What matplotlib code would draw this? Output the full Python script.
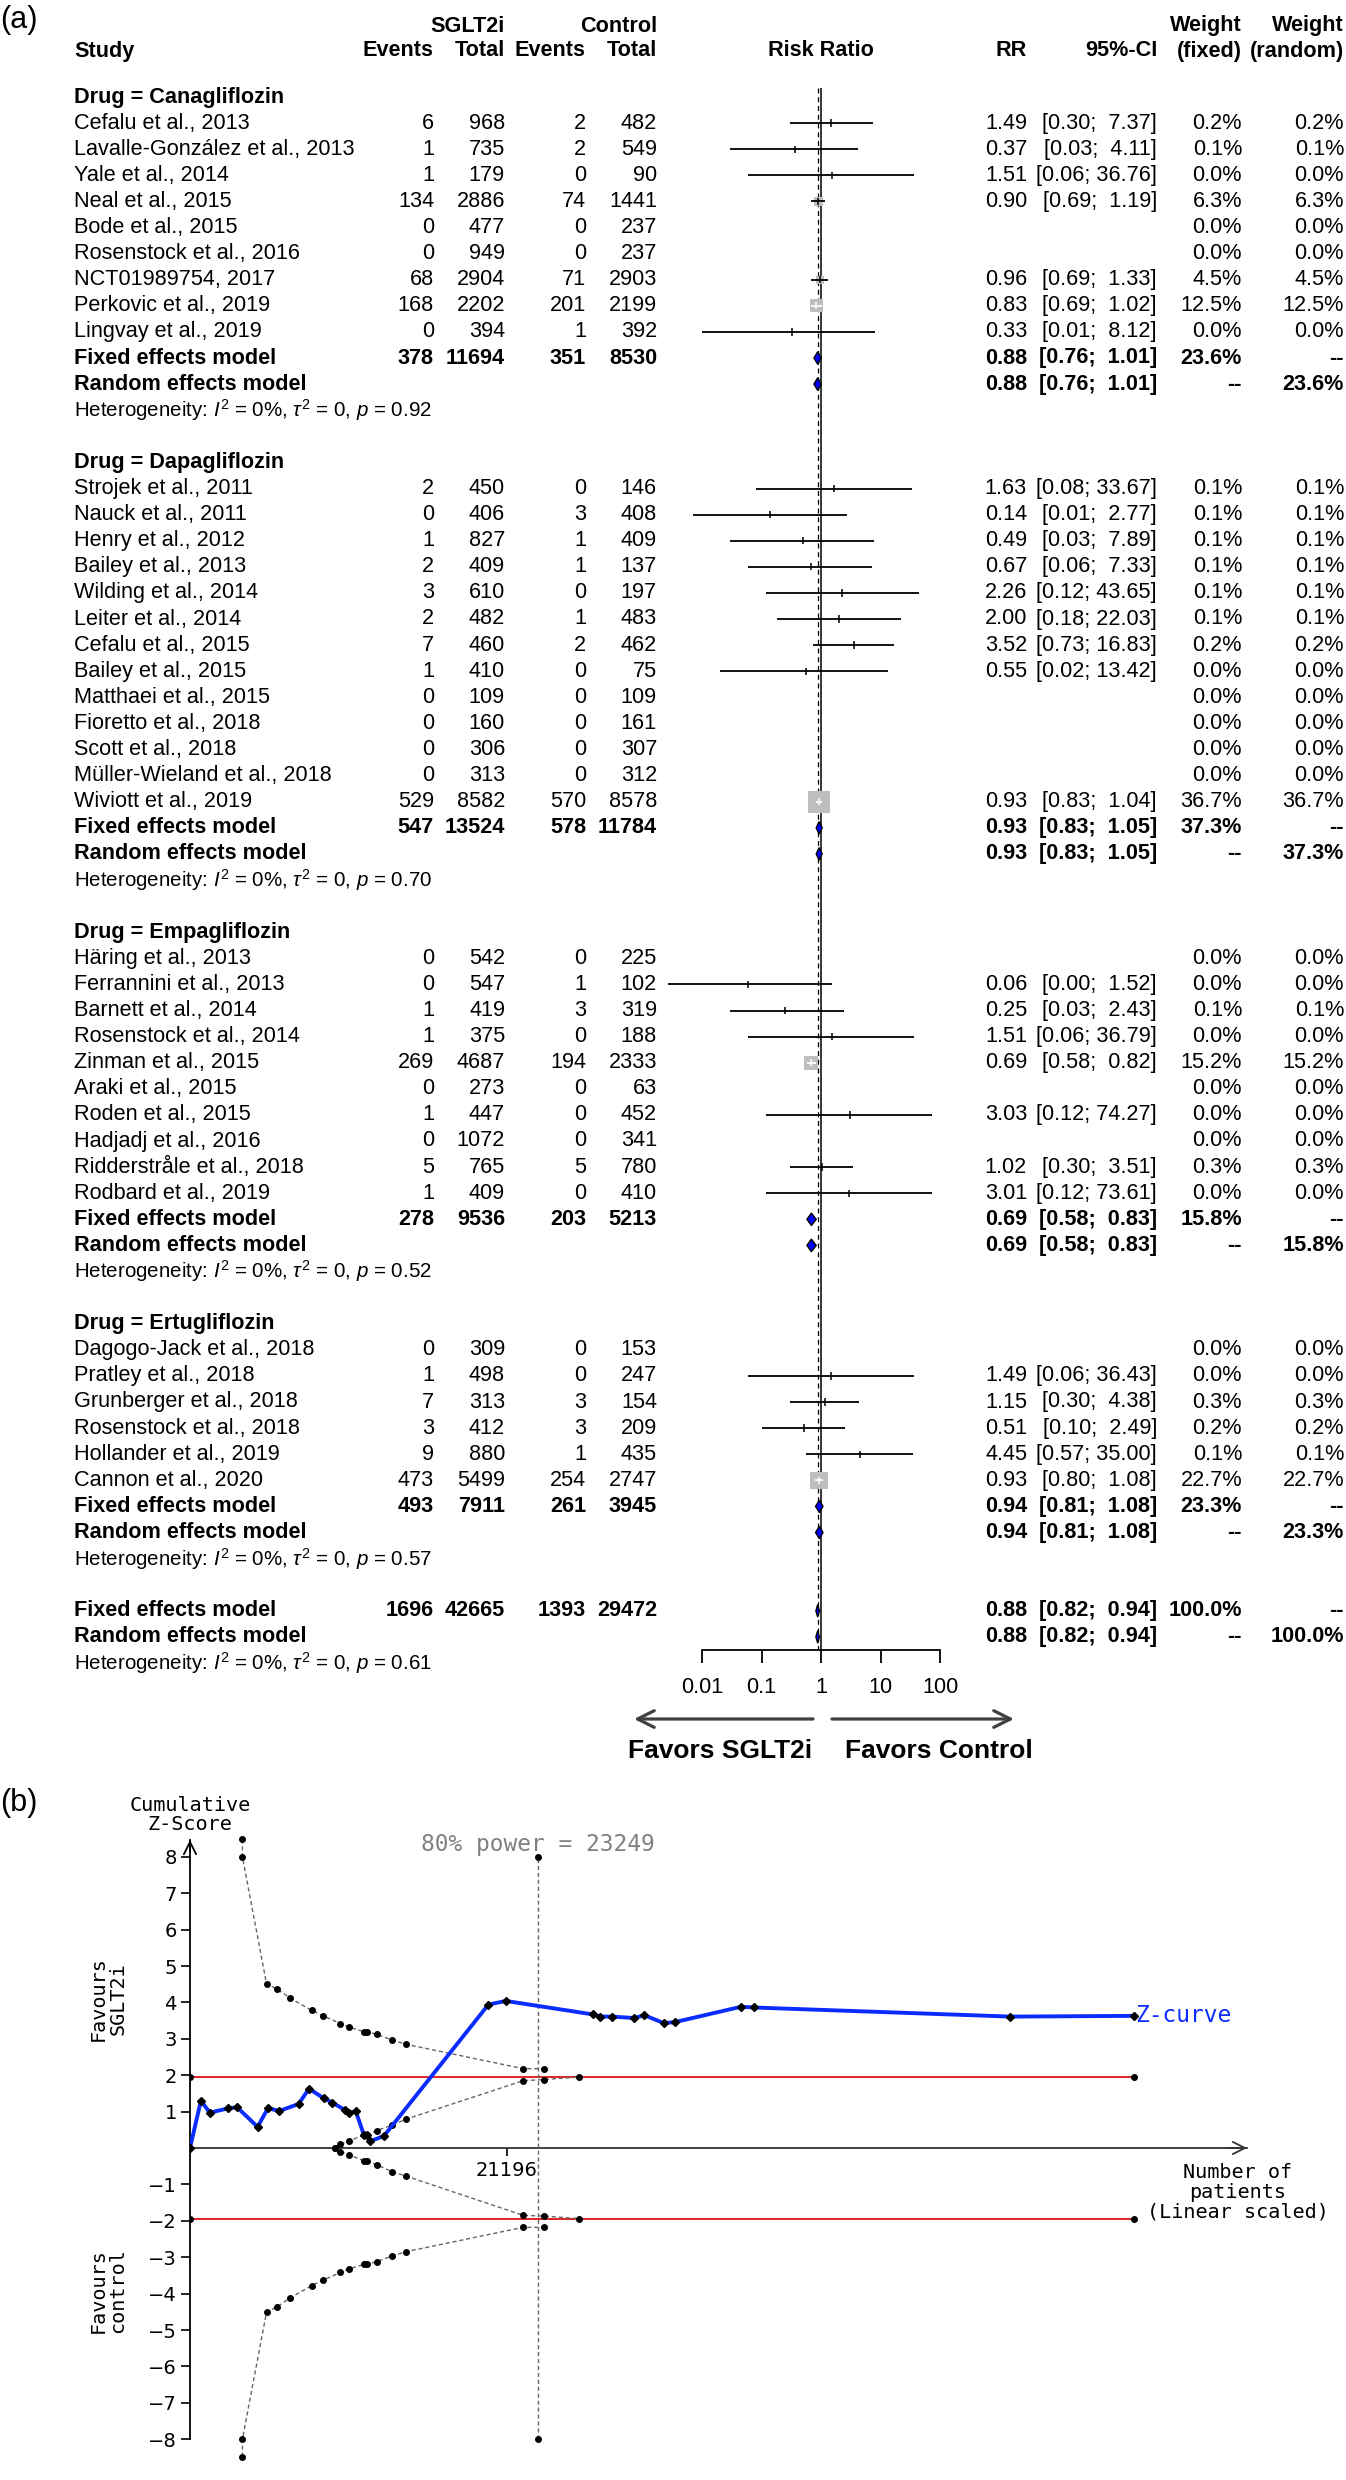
import numpy as np
import matplotlib.pyplot as plt
from matplotlib.ticker import NullLocator

plt.rcParams['font.family'] = ['Liberation Sans', 'DejaVu Sans']
plt.rcParams['mathtext.fontset'] = 'custom'
plt.rcParams['mathtext.rm'] = 'Liberation Sans'
plt.rcParams['mathtext.it'] = 'Liberation Sans:italic'

nan = float('nan')

# ---------------- (a) forest plot data ----------------
drugs = ['Canagliflozin', 'Dapagliflozin', 'Empagliflozin', 'Ertugliflozin']
n_studies = [9, 13, 10, 6]

studies = [
    'Cefalu et al., 2013', 'Lavalle-González et al., 2013', 'Yale et al., 2014',
    'Neal et al., 2015', 'Bode et al., 2015', 'Rosenstock et al., 2016',
    'NCT01989754, 2017', 'Perkovic et al., 2019', 'Lingvay et al., 2019',
    'Strojek et al., 2011', 'Nauck et al., 2011', 'Henry et al., 2012',
    'Bailey et al., 2013', 'Wilding et al., 2014', 'Leiter et al., 2014',
    'Cefalu et al., 2015', 'Bailey et al., 2015', 'Matthaei et al., 2015',
    'Fioretto et al., 2018', 'Scott et al., 2018', 'Müller-Wieland et al., 2018',
    'Wiviott et al., 2019',
    'Häring et al., 2013', 'Ferrannini et al., 2013', 'Barnett et al., 2014',
    'Rosenstock et al., 2014', 'Zinman et al., 2015', 'Araki et al., 2015',
    'Roden et al., 2015', 'Hadjadj et al., 2016', 'Ridderstråle et al., 2018',
    'Rodbard et al., 2019',
    'Dagogo-Jack et al., 2018', 'Pratley et al., 2018', 'Grunberger et al., 2018',
    'Rosenstock et al., 2018', 'Hollander et al., 2019', 'Cannon et al., 2020',
]
ev_sglt2 = [6, 1, 1, 134, 0, 0, 68, 168, 0,
            2, 0, 1, 2, 3, 2, 7, 1, 0, 0, 0, 0, 529,
            0, 0, 1, 1, 269, 0, 1, 0, 5, 1,
            0, 1, 7, 3, 9, 473]
n_sglt2 = [968, 735, 179, 2886, 477, 949, 2904, 2202, 394,
           450, 406, 827, 409, 610, 482, 460, 410, 109, 160, 306, 313, 8582,
           542, 547, 419, 375, 4687, 273, 447, 1072, 765, 409,
           309, 498, 313, 412, 880, 5499]
ev_ctrl = [2, 2, 0, 74, 0, 0, 71, 201, 1,
           0, 3, 1, 1, 0, 1, 2, 0, 0, 0, 0, 0, 570,
           0, 1, 3, 0, 194, 0, 0, 0, 5, 0,
           0, 0, 3, 3, 1, 254]
n_ctrl = [482, 549, 90, 1441, 237, 237, 2903, 2199, 392,
          146, 408, 409, 137, 197, 483, 462, 75, 109, 161, 307, 312, 8578,
          225, 102, 319, 188, 2333, 63, 452, 341, 780, 410,
          153, 247, 154, 209, 435, 2747]
rr = [1.49, 0.37, 1.51, 0.90, nan, nan, 0.96, 0.83, 0.33,
      1.63, 0.14, 0.49, 0.67, 2.26, 2.00, 3.52, 0.55, nan, nan, nan, nan, 0.93,
      nan, 0.06, 0.25, 1.51, 0.69, nan, 3.03, nan, 1.02, 3.01,
      nan, 1.49, 1.15, 0.51, 4.45, 0.93]
ci_lo = [0.30, 0.03, 0.06, 0.69, nan, nan, 0.69, 0.69, 0.01,
         0.08, 0.007, 0.03, 0.06, 0.12, 0.18, 0.73, 0.02, nan, nan, nan, nan, 0.83,
         nan, 0.0027, 0.03, 0.06, 0.58, nan, 0.12, nan, 0.30, 0.12,
         nan, 0.06, 0.30, 0.10, 0.57, 0.80]
ci_hi = [7.37, 4.11, 36.76, 1.19, nan, nan, 1.33, 1.02, 8.12,
         33.67, 2.77, 7.89, 7.33, 43.65, 22.03, 16.83, 13.42, nan, nan, nan, nan, 1.04,
         nan, 1.52, 2.43, 36.79, 0.82, nan, 74.27, nan, 3.51, 73.61,
         nan, 36.43, 4.38, 2.49, 35.00, 1.08]
w_fixed = [0.2, 0.1, 0.0, 6.3, 0.0, 0.0, 4.5, 12.5, 0.0,
           0.1, 0.1, 0.1, 0.1, 0.1, 0.1, 0.2, 0.0, 0.0, 0.0, 0.0, 0.0, 36.7,
           0.0, 0.0, 0.1, 0.0, 15.2, 0.0, 0.0, 0.0, 0.3, 0.0,
           0.0, 0.0, 0.3, 0.2, 0.1, 22.7]
w_random = w_fixed

grp_ev_sglt2 = [378, 547, 278, 493]
grp_n_sglt2 = [11694, 13524, 9536, 7911]
grp_ev_ctrl = [351, 578, 203, 261]
grp_n_ctrl = [8530, 11784, 5213, 3945]
grp_rr = [0.88, 0.93, 0.69, 0.94]
grp_lo = [0.76, 0.83, 0.58, 0.81]
grp_hi = [1.01, 1.05, 0.83, 1.08]
grp_w = [23.6, 37.3, 15.8, 23.3]
grp_p = ['0.92', '0.70', '0.52', '0.57']

tot_counts = [1696, 42665, 1393, 29472]
tot_rr, tot_lo, tot_hi, tot_p = 0.88, 0.82, 0.94, '0.61'

rr_ticks = [0.01, 0.1, 1, 10, 100]
rr_ticklabels = ['0.01', '0.1', '1', '10', '100']

# ---------------- (b) trial sequential analysis data ----------------
z_patients = [0, 729, 1325, 2549, 3148, 4520, 5206, 5983, 7266, 7953, 8967,
              9504, 10340, 10640, 11087, 11624, 11834, 12012, 12968, 19953,
              21119, 26939, 27446, 28222, 29717, 30371, 31684, 32433, 36846,
              37708, 54860, 63140]
z_score = [0, 1.30, 0.97, 1.09, 1.12, 0.58, 1.09, 1.02, 1.21, 1.63, 1.36,
           1.25, 1.05, 0.97, 1.01, 0.36, 0.36, 0.18, 0.33, 3.94,
           4.04, 3.67, 3.61, 3.61, 3.57, 3.65, 3.43, 3.46, 3.88,
           3.86, 3.61, 3.63]
bound_patients = [3505, 3505, 5117, 5833, 6699, 8132, 8908, 10043, 10640,
                  11624, 11834, 12491, 13507, 14431, 22282, 23656]
bound_upper = [8.48, 8.0, 4.51, 4.36, 4.12, 3.78, 3.63, 3.42, 3.32,
               3.20, 3.20, 3.12, 2.97, 2.85, 2.18, 2.18]
bound_lower = [-8.48, -8.0, -4.51, -4.36, -4.12, -3.78, -3.63, -3.42, -3.32,
               -3.20, -3.20, -3.12, -2.97, -2.85, -2.18, -2.18]
futil_patients = [9684, 10043, 10640, 11624, 11834, 12491, 13507, 14431,
                  22282, 23656, 26013]
futil_upper = [0, 0.10, 0.20, 0.35, 0.35, 0.48, 0.63, 0.79, 1.85, 1.88, 1.95]
futil_lower = [0, -0.10, -0.19, -0.35, -0.35, -0.46, -0.65, -0.77, -1.85, -1.87, -1.94]
conv_z = 1.96
power_n = 23249
ris_tick = 21196

# ---------------- figure ----------------
W, H = 1346, 2480
fig = plt.figure(figsize=(W / 100, H / 100), dpi=100)

TOP_A = 1780
ROW0, ROWH = 97, 26.1
FS = 15.6


def px_row(py):
    return (py - ROW0) / ROWH


ax_a = fig.add_axes([0, 1 - TOP_A / H, 1, TOP_A / H])
ax_a.set_xlim(0, W)
ax_a.set_ylim(px_row(TOP_A), px_row(0))
ax_a.axis('off')

# forest axis: 1 at px 821, one decade = 59.5 px
x1, dec = 821, 59.5
fl, fr = 650, 960
ax_f = fig.add_axes([fl / W, 1 - TOP_A / H, (fr - fl) / W, TOP_A / H], sharey=ax_a)
ax_f.set_xscale('log')
ax_f.set_xlim(10 ** ((fl - x1) / dec), 10 ** ((fr - x1) / dec))
ax_f.set_facecolor('none')

X_STUDY, X_EV1, X_TOT1, X_EV2, X_TOT2 = 74, 434, 505, 586, 657
X_RR, X_CI, X_WF, X_WR = 1027, 1157, 1242, 1344


def put(x, r, s, ha='right', bold=False, size=FS):
    ax_a.text(x, r, s, ha=ha, va='center', fontsize=size,
              fontweight='bold' if bold else 'normal')


def fmt_ci(lo, hi):
    return f'[{lo:.2f}; {hi:5.2f}]'


# headers
h1, h2 = px_row(26), px_row(51)
put(X_TOT1, h1, 'SGLT2i', bold=True)
put(X_TOT2, h1, 'Control', bold=True)
put(X_WF, h1, 'Weight', bold=True)
put(X_WR, h1, 'Weight', bold=True)
put(X_STUDY, h2, 'Study', ha='left', bold=True)
put(X_EV1, h2, 'Events', bold=True)
put(X_TOT1, h2, 'Total', bold=True)
put(X_EV2, h2, 'Events', bold=True)
put(X_TOT2, h2, 'Total', bold=True)
put(x1, h2, 'Risk Ratio', ha='center', bold=True)
put(X_RR, h2, 'RR', bold=True)
put(X_CI, h2, '95%-CI', bold=True)
put(X_WF, h2, '(fixed)', bold=True)
put(X_WR, h2, '(random)', bold=True)

study_rows = []
fixed_rows, random_rows = [], []
r = 0
k = 0
for g, n in enumerate(n_studies):
    put(X_STUDY, r, f'Drug = {drugs[g]}', ha='left', bold=True)
    for i in range(n):
        row = r + 1 + i
        study_rows.append(row)
        put(X_STUDY, row, studies[k], ha='left')
        put(X_EV1, row, str(ev_sglt2[k]))
        put(X_TOT1, row, str(n_sglt2[k]))
        put(X_EV2, row, str(ev_ctrl[k]))
        put(X_TOT2, row, str(n_ctrl[k]))
        if not np.isnan(rr[k]):
            put(X_RR, row, f'{rr[k]:.2f}')
            put(X_CI, row, fmt_ci(ci_lo[k], ci_hi[k]))
        put(X_WF, row, f'{w_fixed[k]:.1f}%')
        put(X_WR, row, f'{w_random[k]:.1f}%')
        k += 1
    rf, rn, rh = r + n + 1, r + n + 2, r + n + 3
    fixed_rows.append(rf)
    random_rows.append(rn)
    put(X_STUDY, rf, 'Fixed effects model', ha='left', bold=True)
    put(X_EV1, rf, str(grp_ev_sglt2[g]), bold=True)
    put(X_TOT1, rf, str(grp_n_sglt2[g]), bold=True)
    put(X_EV2, rf, str(grp_ev_ctrl[g]), bold=True)
    put(X_TOT2, rf, str(grp_n_ctrl[g]), bold=True)
    put(X_RR, rf, f'{grp_rr[g]:.2f}', bold=True)
    put(X_CI, rf, fmt_ci(grp_lo[g], grp_hi[g]), bold=True)
    put(X_WF, rf, f'{grp_w[g]:.1f}%', bold=True)
    put(X_WR, rf, '--', bold=True)
    put(X_STUDY, rn, 'Random effects model', ha='left', bold=True)
    put(X_RR, rn, f'{grp_rr[g]:.2f}', bold=True)
    put(X_CI, rn, fmt_ci(grp_lo[g], grp_hi[g]), bold=True)
    put(X_WF, rn, '--', bold=True)
    put(X_WR, rn, f'{grp_w[g]:.1f}%', bold=True)
    put(X_STUDY, rh, r'Heterogeneity: $I^2$ = 0%, $\tau^2$ = 0, $p$ = ' + grp_p[g],
        ha='left', size=FS - 0.8)
    r += n + 5

# overall
rf, rn, rh = r, r + 1, r + 2
put(X_STUDY, rf, 'Fixed effects model', ha='left', bold=True)
for x, v in zip([X_EV1, X_TOT1, X_EV2, X_TOT2], tot_counts):
    put(x, rf, str(v), bold=True)
put(X_RR, rf, f'{tot_rr:.2f}', bold=True)
put(X_CI, rf, fmt_ci(tot_lo, tot_hi), bold=True)
put(X_WF, rf, '100.0%', bold=True)
put(X_WR, rf, '--', bold=True)
put(X_STUDY, rn, 'Random effects model', ha='left', bold=True)
put(X_RR, rn, f'{tot_rr:.2f}', bold=True)
put(X_CI, rn, fmt_ci(tot_lo, tot_hi), bold=True)
put(X_WF, rn, '--', bold=True)
put(X_WR, rn, '100.0%', bold=True)
put(X_STUDY, rh, r'Heterogeneity: $I^2$ = 0%, $\tau^2$ = 0, $p$ = ' + tot_p,
    ha='left', size=FS - 0.8)
fixed_rows.append(rf)
random_rows.append(rn)
axis_row = rn + 0.5

# reference lines
line_top = px_row(88)
ax_f.vlines(1, line_top, axis_row, color='black', lw=1.1, zorder=1)
ax_f.vlines(tot_rr, line_top, axis_row, color='black', lw=0.9,
            linestyles=(0, (4, 3)), zorder=1)

# study squares and CIs
rr_a = np.array(rr)
lo_a = np.array(ci_lo)
hi_a = np.array(ci_hi)
rows_a = np.array(study_rows, dtype=float)
side_px = 3.63 * np.sqrt(np.array(w_fixed))
ax_f.scatter(rr_a, rows_a, marker='s', s=(side_px * 0.72) ** 2,
             color='#BEBEBE', linewidths=0, zorder=3)
for x, lo, hi, row, sp in zip(rr_a, lo_a, hi_a, rows_a, side_px):
    if np.isnan(x):
        continue
    half = 10 ** (sp / 2 / dec)
    inside = lo > x / half and hi < x * half
    col = 'white' if inside else 'black'
    ax_f.hlines(row, lo, hi, color=col, lw=1.3, zorder=4)
    ax_f.vlines(x, row - 0.14, row + 0.14, color=col, lw=1.1, zorder=4)

# pooled diamonds
pool_rr = grp_rr + [tot_rr]
pool_lo = grp_lo + [tot_lo]
pool_hi = grp_hi + [tot_hi]
for rows_set in (fixed_rows, random_rows):
    for row, est, lo, hi in zip(rows_set, pool_rr, pool_lo, pool_hi):
        ax_f.fill([lo, est, hi, est], [row, row - 0.24, row, row + 0.24],
                  facecolor='#0000FF', edgecolor='black', lw=1.0, zorder=5)

for s in ['top', 'right', 'left']:
    ax_f.spines[s].set_visible(False)
ax_f.spines['bottom'].set_position(('data', axis_row))
ax_f.spines['bottom'].set_bounds(rr_ticks[0], rr_ticks[-1])
ax_f.spines['bottom'].set_linewidth(1.3)
ax_f.set_xticks(rr_ticks)
ax_f.set_xticklabels(rr_ticklabels)
ax_f.xaxis.set_minor_locator(NullLocator())
ax_f.tick_params(axis='x', direction='out', length=9.5, width=1.3,
                 labelsize=FS, pad=10)
ax_f.tick_params(axis='y', left=False, labelleft=False)

# favours arrows
arr_row = px_row(1719)
lab_row = px_row(1751)
aprops = dict(arrowstyle='->', lw=2.3, color='#404040', mutation_scale=30,
              shrinkA=0, shrinkB=0)
ax_a.annotate('', xy=(634, arr_row), xytext=(813, arr_row), arrowprops=aprops)
ax_a.annotate('', xy=(1014, arr_row), xytext=(832, arr_row), arrowprops=aprops)
put(720, lab_row, 'Favors SGLT2i', ha='center', bold=True, size=19)
put(939, lab_row, 'Favors Control', ha='center', bold=True, size=19)

fig.text(0.0, 1 - 20 / H, '(a)', fontsize=22, ha='left', va='center')
fig.text(0.0, 1 - 1803 / H, '(b)', fontsize=22, ha='left', va='center')

# ---------------- (b) ----------------
pat_per_px = ris_tick / (507 - 190)
z0_px, z_px = 2148, 36.4
ax_b = fig.add_axes([190 / W, 0, (W - 190) / W, (H - TOP_A) / H])
ax_b.set_xlim(0, (W - 190) * pat_per_px)
ax_b.set_ylim((z0_px - H) / z_px, (z0_px - TOP_A) / z_px)
ax_b.set_facecolor('none')

x_end = (1247 - 190) * pat_per_px
y_top = (z0_px - 1840) / z_px

for s in ['top', 'right']:
    ax_b.spines[s].set_visible(False)
ax_b.spines['bottom'].set_position(('data', 0))
ax_b.spines['bottom'].set_bounds(0, x_end)
ax_b.spines['bottom'].set_color('#333333')
ax_b.spines['bottom'].set_linewidth(1.3)
ax_b.spines['left'].set_bounds(-8, y_top)
ax_b.spines['left'].set_linewidth(1.3)
ax_b.annotate('', xy=(x_end, 0), xytext=(x_end * 0.98, 0),
              arrowprops=dict(arrowstyle='->', lw=1.3, color='#333333',
                              mutation_scale=22, shrinkA=0, shrinkB=0))
ax_b.annotate('', xy=(0, y_top), xytext=(0, y_top - 0.3),
              arrowprops=dict(arrowstyle='->', lw=1.3, color='black',
                              mutation_scale=22, shrinkA=0, shrinkB=0))

ax_b.set_yticks([v for v in range(-8, 9) if v != 0])
ax_b.set_xticks([ris_tick])
ax_b.set_xticklabels([str(ris_tick)])
ax_b.tick_params(axis='y', direction='out', length=6.5, width=1.2, pad=3,
                 labelsize=14)
ax_b.tick_params(axis='x', direction='out', length=6, width=1.2, pad=3,
                 labelsize=14)
for lbl in ax_b.get_yticklabels() + ax_b.get_xticklabels():
    lbl.set_fontfamily('DejaVu Sans')

dot = dict(marker='o', ms=4, mfc='black', mec='black')
for zc in (conv_z, -conv_z):
    ax_b.plot([0, z_patients[-1]], [zc, zc], color='#dd1111', lw=1.3,
              zorder=2, **dot)
bstyle = dict(color='#666666', lw=1.0, ls=(0, (3, 2)), zorder=3, **dot)
ax_b.plot(bound_patients, bound_upper, **bstyle)
ax_b.plot(bound_patients, bound_lower, **bstyle)
ax_b.plot(futil_patients, futil_upper, **bstyle)
ax_b.plot(futil_patients, futil_lower, **bstyle)
ax_b.plot([power_n, power_n], [-8, 8], **bstyle)

ax_b.plot(z_patients, z_score, color='#0a2cff', lw=2.8, marker='D', ms=3.8,
          mfc='black', mec='black', zorder=6)
ax_b.annotate('Z-curve', xy=(z_patients[-1], z_score[-1]), xytext=(1, 0),
              textcoords='offset points', ha='left', va='center',
              color='#0a2cff', fontfamily='DejaVu Sans Mono', fontsize=16.5)
ax_b.text(power_n, (z0_px - 1845) / z_px, f'80% power = {power_n}',
          ha='center', va='center', color='#808080',
          fontfamily='DejaVu Sans Mono', fontsize=16.5)

mono = dict(fontfamily='DejaVu Sans Mono', fontsize=14.5, linespacing=1.05,
            ha='center', va='center')
fig.text(190 / W, 1 - 1815 / H, 'Cumulative\nZ-Score', **mono)
fig.text(108 / W, 1 - 1999 / H, 'Favours\nSGLT2i', rotation=90, **mono)
fig.text(108 / W, 1 - 2291 / H, 'Favours\ncontrol', rotation=90, **mono)
fig.text(1238 / W, 1 - 2192 / H, 'Number of\npatients\n(Linear scaled)', **mono)

fig.savefig('out.png', dpi=100)
